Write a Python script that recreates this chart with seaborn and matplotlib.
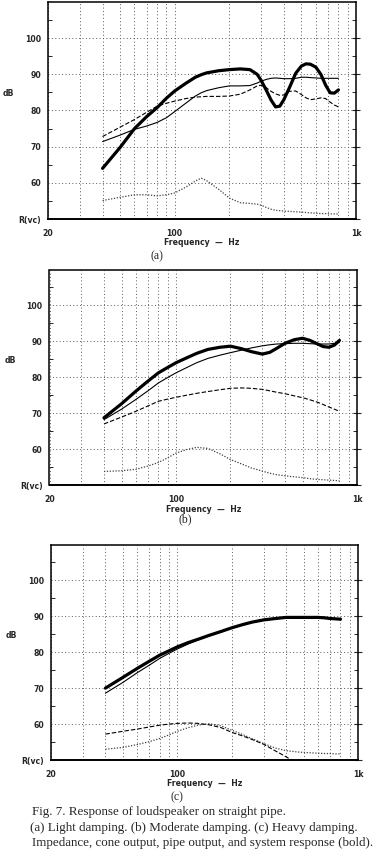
import numpy as np
import matplotlib
matplotlib.use('Agg')
from matplotlib import pyplot as plt
import matplotlib.ticker as ticker
import seaborn as sns

# ---- panel (a): light damping
freq_a = [40, 50, 60, 70, 80, 90, 100, 115, 130, 140, 150, 175, 200, 230, 260, 285, 300,
          320, 340, 360, 380, 400, 430, 465, 500, 530, 560, 600, 640, 680, 720, 760, 800]
system_a = [64.0, 69.8, 75.0, 78.3, 80.8, 83.4, 85.4, 87.5, 89.2, 89.9, 90.4, 91.0, 91.3, 91.5, 91.3, 90.0, 88.3,
            85.6, 82.9, 81.0, 81.2, 83.0, 86.4, 90.3, 92.3, 92.9, 92.8, 92.0, 90.0, 87.0, 84.9, 84.8, 85.7]
cone_a = [71.4, 73.2, 74.8, 75.7, 76.7, 78.0, 79.7, 82.0, 84.0, 84.9, 85.5, 86.3, 86.8, 86.8, 86.9, 87.6, 88.1,
          88.6, 88.9, 89.0, 88.9, 88.8, 88.8, 88.9, 89.2, 89.2, 89.1, 89.0, 88.9, 88.9, 88.9, 88.9, 88.9]
pipe_a = [72.8, 75.4, 77.5, 79.5, 81.2, 82.0, 82.6, 83.3, 83.7, 83.8, 83.9, 83.9, 84.0, 84.5, 85.7, 86.8, 87.0,
          86.3, 85.3, 84.6, 84.2, 84.3, 85.3, 85.4, 84.4, 83.5, 83.0, 83.2, 83.5, 83.3, 82.3, 81.5, 81.0]
imped_a = [55.1, 56.0, 56.7, 56.7, 56.4, 56.7, 57.2, 58.8, 60.5, 61.3, 60.6, 58.2, 55.8, 54.5, 54.3, 54.1, 53.8,
           53.2, 52.7, 52.4, 52.3, 52.2, 52.1, 52.0, 51.9, 51.8, 51.7, 51.6, 51.5, 51.5, 51.4, 51.4, 51.4]

# ---- panel (b): moderate damping
freq_b = [40, 50, 60, 70, 80, 90, 100, 115, 130, 150, 175, 200, 230, 260, 300, 330, 360,
          400, 450, 500, 550, 600, 650, 700, 750, 800]
system_b = [68.8, 72.7, 76.2, 79.0, 81.3, 82.8, 84.1, 85.5, 86.7, 87.8, 88.4, 88.7, 88.0, 87.2, 86.5, 87.0, 88.1,
            89.5, 90.5, 90.9, 90.3, 89.4, 88.6, 88.4, 89.0, 90.3]
cone_b = [68.3, 71.2, 73.9, 76.3, 78.5, 80.0, 81.3, 82.8, 84.1, 85.3, 86.2, 86.9, 87.6, 88.2, 88.8, 89.1, 89.3,
          89.4, 89.5, 89.5, 89.4, 89.3, 89.3, 89.3, 89.5, 89.7]
pipe_b = [67.1, 69.0, 70.6, 72.1, 73.4, 74.0, 74.5, 75.1, 75.6, 76.1, 76.6, 77.0, 77.1, 77.0, 76.7, 76.3, 75.9,
          75.5, 74.9, 74.4, 73.8, 73.2, 72.5, 71.8, 71.2, 70.6]
imped_b = [53.9, 54.1, 54.5, 55.4, 56.4, 57.7, 59.0, 60.0, 60.6, 60.3, 58.8, 57.2, 56.0, 54.9, 54.0, 53.4, 53.0,
           52.7, 52.4, 52.2, 51.9, 51.7, 51.6, 51.5, 51.4, 51.3]

# ---- panel (c): heavy damping
freq_c = [40, 50, 60, 70, 80, 90, 100, 115, 130, 150, 175, 200, 230, 260, 300, 350,
          400, 450, 500, 550, 600, 650, 700, 750, 800]
system_c = [70.0, 73.0, 75.5, 77.5, 79.2, 80.4, 81.5, 82.7, 83.6, 84.7, 85.8, 86.8, 87.7, 88.4, 89.0, 89.4,
            89.7, 89.7, 89.7, 89.7, 89.7, 89.6, 89.4, 89.3, 89.2]
cone_c = [68.6, 71.6, 74.3, 76.4, 78.3, 79.7, 80.9, 82.3, 83.4, 84.6, 85.7, 86.7, 87.6, 88.3, 88.9, 89.3,
          89.6, 89.6, 89.6, 89.6, 89.6, 89.5, 89.3, 89.2, 89.1]
pipe_c = [57.2, 58.0, 58.6, 59.2, 59.7, 60.0, 60.2, 60.3, 60.2, 59.8, 59.0, 57.7, 56.7, 55.7, 54.4, 52.5,
          50.9, 49.3, 48.0, 46.8, 45.7, 44.7, 43.8, 43.0, 42.2]
imped_c = [53.0, 53.5, 54.3, 55.1, 56.0, 57.0, 58.0, 59.0, 59.7, 60.1, 59.5, 58.3, 57.1, 55.9, 54.6, 53.3,
           52.6, 52.3, 52.1, 52.0, 51.9, 51.8, 51.8, 51.7, 51.7]

y_ticks = [50, 60, 70, 80, 90, 100]
y_labels = ['R(vc)', '60', '70', '80', '90', '100']
x_ticks = [20, 100, 1000]
x_labels = ['20', '100', '1k']
panel_tags = ['(a)', '(b)', '(c)']
caption = ['Fig. 7. Response of loudspeaker on straight pipe.',
           '(a) Light damping. (b) Moderate damping. (c) Heavy damping.',
           'Impedance, cone output, pipe output, and system response (bold).']

sns.set_style('white')
plt.rcParams['font.family'] = ['DejaVu Sans']

W, H = 380, 863
fig = plt.figure(figsize=(W / 100, H / 100), dpi=100)

# axes boxes in pixels: left, top, right, bottom
boxes = [(48, 2, 356, 219), (49.5, 269.5, 357, 485.5), (51, 544.5, 358, 760)]
tag_pos = [(157, 256), (185, 519), (177, 797)]

panels = [
    (freq_a, system_a, cone_a, pipe_a, imped_a),
    (freq_b, system_b, cone_b, pipe_b, imped_b),
    (freq_c, system_c, cone_c, pipe_c, imped_c),
]

small = 5.6

for i, (freq, system, cone, pipe, imped) in enumerate(panels):
    l, t, r, b = boxes[i]
    ax = fig.add_axes([l / W, 1 - b / H, (r - l) / W, (b - t) / H])
    ax.set_xscale('log')

    sns.lineplot(x=freq, y=imped, ax=ax, color='0.25', linewidth=0.9, linestyle=(0, (1, 1.3)))
    sns.lineplot(x=freq, y=pipe, ax=ax, color='black', linewidth=0.8, linestyle=(0, (4, 1.8)))
    sns.lineplot(x=freq, y=cone, ax=ax, color='black', linewidth=0.8)
    sns.lineplot(x=freq, y=system, ax=ax, color='black', linewidth=2.3)

    ax.set_xlim(20, 1000)
    ax.set_ylim(50, 110)

    ax.set_xticks(x_ticks, labels=x_labels)
    ax.xaxis.set_minor_locator(ticker.FixedLocator([30, 40, 50, 60, 70, 80, 90,
                                                    200, 300, 400, 500, 600, 700, 800, 900]))
    ax.xaxis.set_minor_formatter(ticker.NullFormatter())
    ax.set_yticks(y_ticks, labels=y_labels)
    ax.yaxis.set_minor_locator(ticker.FixedLocator([55, 65, 75, 85, 95, 105]))

    ax.grid(which='both', axis='x', linestyle=(0, (1, 2.5)), color='0.35', linewidth=0.7)
    ax.grid(which='major', axis='y', linestyle=(0, (1, 2.5)), color='0.35', linewidth=0.7)
    for gl in ax.get_ygridlines()[:1]:
        gl.set_visible(False)

    ax.tick_params(axis='x', which='major', direction='inout', length=6, width=0.8,
                   pad=4, labelsize=small)
    ax.tick_params(axis='x', which='minor', direction='in', length=4, width=0.7)
    ax.tick_params(axis='y', which='major', direction='inout', length=6, width=0.8,
                   pad=2, labelsize=small, right=True)
    ax.tick_params(axis='y', which='minor', direction='in', length=3, width=0.7, left=True, right=True)
    for lab in ax.get_xticklabels() + ax.get_yticklabels():
        lab.set_fontweight('bold')

    for sp in ax.spines.values():
        sp.set_visible(True)
        sp.set_color('black')
        sp.set_linewidth(1.1)
    ax.spines['bottom'].set_linewidth(1.4)

    ax.set_xlabel('Frequency  \u2014  Hz', fontsize=small, fontweight='bold', labelpad=0.5)
    ax.set_ylabel('dB', rotation=0, fontsize=small, fontweight='bold', ha='center', va='center')
    ax.yaxis.set_label_coords(-0.128, 0.58)

    tx, ty = tag_pos[i]
    fig.text(tx / W, 1 - ty / H, panel_tags[i], family='Liberation Serif',
             fontsize=8.5, ha='center', va='center')

cap_y = [812, 828, 843]
cap_x = [32, 30, 32]
for line, y0, x0 in zip(caption, cap_y, cap_x):
    fig.text(x0 / W, 1 - y0 / H, line, family='Liberation Serif', fontsize=9.4,
             ha='left', va='center')

fig.savefig('out.png', dpi=100)
